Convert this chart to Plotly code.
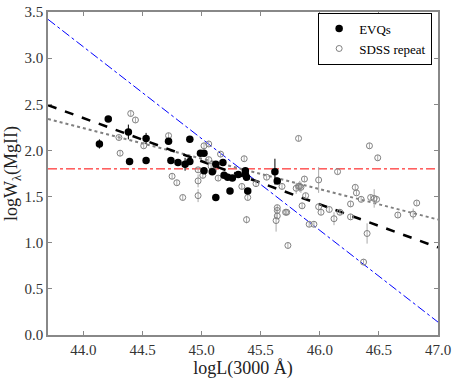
import numpy as np
import plotly.graph_objects as go

# EVQ sample (filled black)
evq_logl = [44.21, 44.135, 44.38, 44.39, 44.53, 44.53, 44.72, 44.74, 44.80, 44.90,
            44.86, 44.90, 44.99, 45.02, 45.02, 45.09, 45.12, 45.18, 45.19, 45.22,
            45.26, 45.31, 45.24, 45.12, 45.37, 45.37, 45.38, 45.39, 45.62, 45.64]
evq_logw = [2.34, 2.07, 2.20, 1.88, 2.13, 1.89, 2.10, 1.89, 1.87, 2.12,
            1.85, 1.88, 1.97, 1.97, 1.78, 1.77, 1.85, 1.87, 1.73, 1.71,
            1.70, 1.74, 1.56, 1.49, 1.78, 1.74, 1.71, 1.56, 1.77, 1.67]
evq_err = [0.03, 0.05, 0.08, 0.03, 0.06, 0.03, 0.03, 0.03, 0.03, 0.03,
           0.07, 0.03, 0.03, 0.03, 0.03, 0.03, 0.03, 0.03, 0.03, 0.03,
           0.03, 0.03, 0.03, 0.03, 0.03, 0.07, 0.03, 0.03, 0.14, 0.03]

# SDSS repeat sample (open grey)
sdss_logl = [44.40, 44.44, 44.30, 44.31, 44.51, 44.72, 44.75, 44.79, 45.02, 45.06,
             45.16, 45.06, 45.08, 44.97, 45.01, 45.10, 44.97, 45.14, 44.84, 44.97,
             45.36, 45.34, 45.39, 45.46, 45.55, 45.64, 45.64, 45.64, 45.63, 45.72,
             45.73, 45.38, 45.82, 45.82, 45.87, 46.42, 46.15, 45.99, 45.80, 45.83,
             45.84, 45.68, 45.88, 45.85, 45.71, 45.99, 46.01, 46.08, 46.12, 46.17,
             46.26, 46.26, 46.30, 46.31, 46.35, 45.91, 45.95, 46.37, 46.40, 46.49,
             46.43, 46.46, 46.48, 46.66, 46.79, 46.82]
sdss_logw = [2.40, 2.33, 2.14, 1.97, 2.05, 2.16, 1.72, 1.65, 2.05, 2.07,
             1.96, 1.90, 1.83, 1.79, 1.73, 1.78, 1.67, 1.70, 1.49, 1.51,
             1.91, 1.61, 1.49, 1.64, 1.71, 1.35, 1.29, 1.38, 1.24, 1.33,
             0.97, 1.25, 2.13, 1.61, 1.69, 2.05, 1.77, 1.68, 1.59, 1.61,
             1.60, 1.61, 1.51, 1.40, 1.33, 1.39, 1.33, 1.36, 1.26, 1.33,
             1.28, 1.42, 1.60, 1.54, 1.47, 1.20, 1.20, 0.79, 1.10, 1.92,
             1.49, 1.48, 1.47, 1.30, 1.31, 1.43]
sdss_err = [0.03, 0.03, 0.03, 0.03, 0.03, 0.03, 0.03, 0.03, 0.03, 0.03,
            0.03, 0.03, 0.03, 0.03, 0.03, 0.03, 0.07, 0.03, 0.03, 0.07,
            0.03, 0.03, 0.03, 0.03, 0.03, 0.03, 0.03, 0.03, 0.12, 0.03,
            0.03, 0.04, 0.03, 0.03, 0.03, 0.03, 0.03, 0.14, 0.06, 0.06,
            0.06, 0.03, 0.03, 0.03, 0.03, 0.03, 0.03, 0.03, 0.07, 0.03,
            0.03, 0.03, 0.03, 0.03, 0.03, 0.03, 0.03, 0.03, 0.11, 0.03,
            0.03, 0.10, 0.03, 0.03, 0.06, 0.03]

# fitted relations: value at logL = 45 and slope
fit_evq = (1.883, -0.467)
fit_sdss = (1.911, -0.330)
fit_blue = (2.128, -0.994)
const_level = 1.80

serif = 'Liberation Serif'
xline = np.array([43.7, 47.0])
fig = go.Figure()

fig.add_trace(go.Scatter(x=xline, y=[const_level, const_level], mode='lines',
                         line=dict(color='red', width=1, dash='dashdot'), showlegend=False))
fig.add_trace(go.Scatter(x=xline, y=fit_blue[0] + fit_blue[1] * (xline - 45), mode='lines',
                         line=dict(color='blue', width=1, dash='dashdot'), showlegend=False))
fig.add_trace(go.Scatter(x=xline, y=fit_sdss[0] + fit_sdss[1] * (xline - 45), mode='lines',
                         line=dict(color='grey', width=2, dash='dot'), showlegend=False))
fig.add_trace(go.Scatter(x=xline, y=fit_evq[0] + fit_evq[1] * (xline - 45), mode='lines',
                         line=dict(color='black', width=2.5, dash='dash'), showlegend=False))

fig.add_trace(go.Scatter(x=sdss_logl, y=sdss_logw, mode='markers', name='SDSS repeat',
                         marker=dict(symbol='circle-open', size=6, color='grey', line=dict(width=1)),
                         error_y=dict(type='data', array=sdss_err, color='#aaaaaa', thickness=1, width=0)))
fig.add_trace(go.Scatter(x=evq_logl, y=evq_logw, mode='markers', name='EVQs',
                         marker=dict(symbol='circle', size=7.5, color='black'),
                         error_y=dict(type='data', array=evq_err, color='black', thickness=1, width=0)))

axis_style = dict(showgrid=False, zeroline=False, showline=True, mirror='ticks',
                  linecolor='#888888', linewidth=1.5, ticks='inside', ticklen=4,
                  tickcolor='#888888', tickformat='.1f', automargin=False,
                  tickfont=dict(family=serif, size=15, color='#333333'))

fig.update_layout(
    width=457, height=381,
    margin=dict(l=48, r=19, t=12, b=46),
    plot_bgcolor='white', paper_bgcolor='white',
    font=dict(family=serif, size=15, color='#222222'),
    legend=dict(x=0.985, y=0.998, xanchor='right', yanchor='top', traceorder='reversed',
                bgcolor='white', bordercolor='black', borderwidth=1,
                font=dict(family=serif, size=13, color='black'), itemwidth=30,
                tracegroupgap=0),
    xaxis=dict(range=[43.7, 47.0], dtick=0.5, tick0=44.0,
               title=dict(text='logL(3000 Å)', standoff=2), **axis_style),
    yaxis=dict(range=[0.0, 3.5], dtick=0.5,
               title=dict(text='logW<sub>λ</sub>(MgII)', standoff=2), **axis_style),
)

fig.write_html("out.html", config={'displayModeBar': False},
               post_script="document.body.style.margin='0px';")
